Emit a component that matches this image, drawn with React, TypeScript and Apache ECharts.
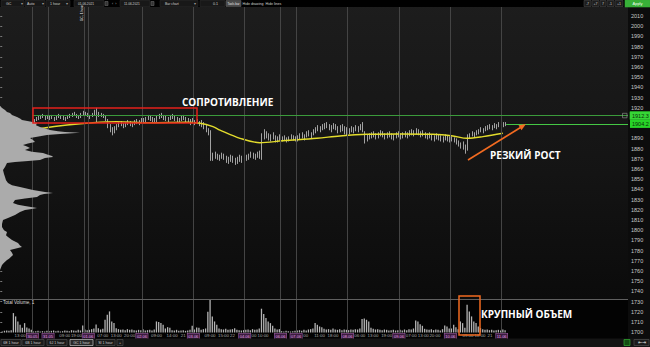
import { useEffect, useRef } from "react";
import * as echarts from "echarts";

// ---- price bars (hourly), index 0 = first bar of 28.05 session ----
const priceHigh = [
  // 28.05
  1903, 1905, 1904, 1906, 1902, 1901, 1903, 1905, 1904, 1906, 1907, 1905, 1904, 1903,
  // 30.05
  1909, 1911, 1912, 1913, 1914, 1912, 1913,
  // 31.05
  1912, 1913, 1911, 1912, 1914, 1913, 1912, 1911, 1913, 1914, 1915, 1916, 1914, 1913, 1915, 1917, 1916, 1915,
  // 01.06
  1913, 1915, 1918, 1920, 1916, 1915, 1914, 1912, 1909, 1904, 1901, 1902, 1904, 1906, 1907, 1905, 1906, 1908, 1907, 1906, 1908, 1909, 1908, 1910,
  // 02.06
  1910, 1911, 1913, 1912, 1911, 1910, 1912, 1914, 1915, 1913, 1912, 1911, 1913, 1914, 1912, 1911, 1910, 1912, 1913, 1911, 1910, 1909, 1910,
  // 03.06
  1908, 1909, 1907, 1908, 1906, 1904, 1900, 1898, 1876, 1877, 1875, 1874, 1876, 1875, 1873, 1872, 1874, 1873, 1871, 1872, 1874, 1873, 1872,
  // 04.06
  1874, 1875, 1877, 1876, 1875, 1877, 1878, 1895, 1899, 1897, 1895, 1894, 1896, 1893, 1892, 1894,
  // 06.06
  1892, 1893, 1891, 1892, 1894, 1893, 1892,
  // 07.06
  1893, 1895, 1896, 1894, 1897, 1898, 1896, 1899, 1901, 1903, 1902, 1904, 1905, 1906, 1904, 1903, 1905, 1904, 1902, 1903, 1904, 1902, 1901,
  // 08.06
  1900, 1902, 1901, 1903, 1902, 1904, 1906, 1897, 1894, 1895, 1896, 1897, 1895, 1896, 1898, 1897, 1895, 1896, 1897, 1895, 1894, 1896, 1897,
  // 09.06
  1895, 1896, 1897, 1896, 1898, 1899, 1898, 1900, 1899, 1897, 1898, 1896, 1895, 1896, 1894, 1893, 1895, 1894, 1893, 1892, 1894, 1893, 1892,
  // 10.06
  1892, 1891, 1890, 1888, 1886, 1887, 1884, 1894, 1895, 1897, 1896, 1898, 1899, 1901, 1900, 1902, 1903, 1904, 1903, 1905, 1904, 1906, 1905,
  // 11.06
  1906, 1906,
];

const priceLow = [
  1897, 1899, 1898, 1900, 1896, 1895, 1897, 1899, 1899, 1900, 1901, 1900, 1899, 1898,
  1905, 1907, 1908, 1909, 1910, 1908, 1909,
  1908, 1909, 1907, 1908, 1910, 1909, 1908, 1907, 1909, 1910, 1911, 1912, 1910, 1909, 1910, 1912, 1912, 1911,
  1909, 1911, 1912, 1906, 1911, 1911, 1910, 1907, 1900, 1896, 1893, 1895, 1898, 1901, 1902, 1900, 1901, 1903, 1902, 1901, 1903, 1904, 1903, 1905,
  1905, 1906, 1908, 1907, 1906, 1905, 1906, 1909, 1910, 1908, 1907, 1906, 1908, 1909, 1907, 1906, 1905, 1907, 1908, 1906, 1905, 1903, 1905,
  1903, 1904, 1902, 1901, 1899, 1896, 1893, 1868, 1868, 1870, 1869, 1868, 1870, 1869, 1866, 1865, 1867, 1866, 1864, 1865, 1867, 1866, 1865,
  1868, 1869, 1871, 1870, 1869, 1871, 1870, 1869, 1889, 1890, 1888, 1887, 1889, 1886, 1886, 1888,
  1887, 1888, 1886, 1887, 1889, 1888, 1887,
  1887, 1889, 1890, 1888, 1891, 1892, 1890, 1893, 1895, 1897, 1896, 1898, 1899, 1900, 1898, 1896, 1899, 1898, 1895, 1896, 1897, 1894, 1893,
  1894, 1896, 1895, 1897, 1896, 1898, 1896, 1885, 1887, 1889, 1890, 1891, 1889, 1890, 1892, 1891, 1889, 1890, 1891, 1889, 1888, 1890, 1891,
  1889, 1890, 1891, 1890, 1892, 1893, 1892, 1894, 1893, 1891, 1892, 1890, 1889, 1890, 1888, 1887, 1889, 1888, 1887, 1886, 1888, 1887, 1886,
  1887, 1886, 1884, 1882, 1880, 1879, 1875, 1878, 1890, 1892, 1891, 1893, 1894, 1896, 1895, 1897, 1898, 1899, 1898, 1900, 1899, 1901, 1900,
  1901, 1902,
];

// total volume (thousands)
const volume = [
  3, 5, 6, 5, 7, 58, 48, 33, 23, 14, 28, 15, 12, 8,
  3, 4, 5, 3, 4, 3, 5,
  4, 5, 6, 4, 5, 3, 4, 6, 5, 4, 7, 6, 5, 8, 6, 21, 9, 7,
  8, 10, 12, 24, 13, 9, 11, 38, 53, 63, 33, 28, 13, 10, 8, 9, 7, 10, 8, 9, 7, 6, 8, 7,
  10, 6, 7, 8, 6, 9, 33, 31, 28, 23, 12, 16, 14, 7, 6, 8, 5, 6, 7, 5, 6, 8, 20,
  9, 15, 14, 8, 10, 12, 62, 99, 48, 33, 23, 12, 10, 9, 11, 8, 9, 10, 13, 8, 7, 6, 7,
  8, 9, 7, 10, 8, 9, 12, 71, 55, 43, 33, 28, 20, 12, 9, 10,
  4, 3, 5, 4, 3, 4, 5,
  6, 7, 5, 8, 6, 9, 10, 12, 28, 23, 18, 16, 11, 9, 10, 8, 12, 9, 8, 10, 7, 9, 8,
  7, 9, 8, 10, 9, 12, 40, 42, 38, 33, 14, 11, 9, 10, 8, 7, 9, 8, 6, 7, 8, 6, 7,
  8, 6, 9, 7, 10, 9, 12, 36, 33, 25, 20, 11, 9, 8, 10, 7, 9, 8, 6, 10, 21, 18, 12,
  12, 23, 16, 10, 33, 28, 14, 83, 63, 48, 33, 28, 18, 13, 10, 8, 9, 7, 8, 6, 7, 8, 6,
  9, 7,
];

// moving average (yellow line), read at points
const maIndex = [16, 18, 29, 40.6, 51.3, 66, 82.7, 88.5, 94.3, 97.4, 106.4, 115.3, 125.6, 140.8, 151.1, 163.2, 178, 192.7, 201.7, 208, 215.1, 224];
const maValue = [1898.6, 1899.9, 1903.1, 1905.4, 1906.4, 1905.4, 1905.8, 1904.8, 1901.5, 1898.2, 1890.1, 1885.8, 1887.7, 1890.1, 1892.4, 1894, 1894.3, 1894, 1892.4, 1890.1, 1891.7, 1895];

// sessions
const dayStarts = [14, 21, 39, 63, 86, 109, 125, 132, 155, 178, 201, 224];
const dayLabels = ["30.05", "31.05", "01.06", "02.06", "03.06", "04.06", "06.06", "07.06", "08.06", "09.06", "10.06", "11.06"];
const extraSeparators = [36.6];
const timeLabelIdx = [4.4, 8, 28, 33.2, 45, 51, 57, 69, 76, 81, 93, 99, 103, 112.6, 116.7, 135.8, 142, 148, 160, 165.9, 172, 183, 188.4, 193.6, 208.4, 213.8, 218.2];
const timeLabelText = ["07:00", "13:00", "09:00", "19:00", "07:00", "13:00", "20:00", "09:00", "14:00", "21", "09:00", "15:00", "22", "00", "10:00", "00", "11:00", "18:00", "06:00", "13:00", "19:00", "07:00", "13:00", "20:00", "09:00", "18:00", "21"];

// volume profile (left)
const profilePrice = [1922, 1919.8, 1917.8, 1916, 1914.9, 1913, 1911, 1909.5, 1908, 1906.5, 1905.1, 1903, 1901.2, 1899.5, 1898.2, 1897, 1896.3, 1895.6, 1895, 1894.3, 1893.3, 1892, 1890.4, 1888.5, 1886.5, 1885, 1883.5, 1882, 1880.6, 1878.6, 1877, 1875.7, 1874, 1872.7, 1871.8, 1870.8, 1868.8, 1867.5, 1866.9, 1865.9, 1862, 1859, 1855, 1852.2, 1849, 1846.3, 1844, 1842.4, 1839.4, 1837.5, 1836.5, 1835.5, 1834.5, 1832.5, 1831, 1829.6, 1826.7, 1825, 1823.7, 1821.8, 1820.5, 1819.8, 1817.8, 1814.9, 1812, 1810, 1806, 1803.1, 1800, 1798.2, 1795, 1793.3, 1790.4, 1787.5, 1785, 1783.5, 1780.6, 1778, 1775.7, 1772, 1770.8, 1768, 1765.9, 1761];
const profileVolume = [0, 2, 5, 7, 10, 12, 17, 20, 22, 30, 37, 36, 40, 46, 50, 58, 65, 80, 72, 60, 47, 40, 30, 33, 35, 28, 23, 27, 30, 25, 32, 43, 48, 52, 53, 45, 40, 25, 15, 7, 5, 3, 4, 5, 6, 8, 12, 20, 33, 45, 53, 44, 40, 37, 25, 15, 13, 18, 25, 37, 30, 25, 20, 15, 8, 3, 2, 2, 4, 7, 6, 8, 12, 18, 20, 22, 10, 12, 13, 9, 7, 4, 2, 0];

// price axis labels hidden behind the price boxes
const coveredPriceLabels = [1900, 1910];
const levelPrice = 1912.3;
const lastPrice = 1904.2;
const timerText = "01:29:48";

const FONT = '"Liberation Sans", Arial, sans-serif';
const BOLD = '"Open Sans", "Noto Sans", sans-serif';

function txt(x: number, y: number, text: string, size: number, color: string, align = "left", weight = "normal", family = FONT, extra: any = {}) {
  return {
    type: "text",
    x,
    y,
    z: 62,
    ...extra,
    style: {
      text,
      fill: color,
      font: `${weight} ${size}px ${family}`,
      align,
      textAlign: align,
      verticalAlign: "middle",
      textVerticalAlign: "middle",
    },
  };
}
function box(x: number, y: number, w: number, h: number, fill: string, stroke: string, z = 61, lw = 0.6) {
  return { type: "rect", z, shape: { x, y, width: w, height: h }, style: { fill, stroke, lineWidth: lw } };
}

export default function App() {
  const ref = useRef<HTMLDivElement>(null);
  useEffect(() => {
    document.body.style.margin = "0";
    const chart = echarts.init(ref.current!, null, { renderer: "svg" });

    const barData = priceHigh.map((h, i) => [i, priceLow[i], h]);
    const volData = volume.map((v, i) => [i, v]);
    const maData = maIndex.map((x, i) => [x, maValue[i]]);
    const sepValues = [...dayStarts.map((d) => d - 0.5), ...extraSeparators];

    const labelMap = new Map<string, string>();
    timeLabelIdx.forEach((v, i) => labelMap.set(v.toFixed(2), `{t|${timeLabelText[i]}}`));
    dayStarts.forEach((d, i) => labelMap.set((d - 0.5).toFixed(2), `{d|${dayLabels[i]}}`));
    const labelValues = [...timeLabelIdx, ...dayStarts.map((d) => d - 0.5)];

    // toolbar
    const toolbar: any[] = [
      box(0, 0, 650, 7, "#000", "#000", 60, 0),
      box(1, 0.5, 23, 6, "#181818", "#2e2e2e"),
      txt(6, 3.5, "GC", 3.6, "#d0d0d0"),
      txt(21, 3.5, "▾", 3.6, "#999"),
      box(25, 0.5, 20, 6, "#181818", "#2e2e2e"),
      txt(27, 3.5, "Auto", 3.6, "#d0d0d0"),
      txt(42, 3.5, "▾", 3.6, "#999"),
      box(46, 0.5, 24, 6, "#181818", "#2e2e2e"),
      txt(50, 3.5, "1 hour", 3.6, "#d0d0d0"),
      txt(66, 3.5, "▾", 3.6, "#999"),
      box(74, 0.5, 30, 6, "#181818", "#2e2e2e"),
      txt(78, 3.5, "01.06.2021", 3.2, "#d0d0d0"),
      box(105, 1.5, 3, 4, "#333", "#666"),
      txt(112, 3.5, "‹  ›", 3.6, "#bbb"),
      box(120, 0.5, 30, 6, "#181818", "#2e2e2e"),
      txt(124, 3.5, "11.06.2021", 3.2, "#d0d0d0"),
      box(151, 1.5, 3, 4, "#333", "#666"),
      box(160, 0.5, 38, 6, "#181818", "#2e2e2e"),
      txt(165, 3.5, "Bar chart", 3.4, "#d0d0d0"),
      txt(194, 3.5, "▾", 3.6, "#999"),
      box(200, 0.5, 25, 6, "#181818", "#2e2e2e"),
      txt(213, 3.5, "0.1", 3.6, "#d0d0d0"),
      box(226, 0.5, 15, 6, "#4a4a4a", "#5a5a5a"),
      txt(233.5, 3.5, "Tools bar", 3, "#e0e0e0", "center"),
      txt(242.5, 3.5, "Hide drawing", 3.6, "#d0d0d0"),
      txt(265.5, 3.5, "Hide lines", 3.6, "#d0d0d0"),
      box(584, 0.5, 7, 6, "#1e1e1e", "#444"),
      txt(587.5, 3.5, "-7", 3.6, "#ccc", "center"),
      box(592, 0.5, 7, 6, "#1e1e1e", "#444"),
      txt(595.5, 3.5, "+7", 3.6, "#ccc", "center"),
      box(600, 0.5, 6, 6, "#1e1e1e", "#444"),
      txt(603, 3.5, "7", 3.6, "#ccc", "center"),
      box(607, 0.5, 7, 6, "#1e1e1e", "#444"),
      txt(610.5, 3.5, "-1", 3.6, "#ccc", "center"),
      box(615, 0.5, 8, 6, "#1e1e1e", "#444"),
      txt(619, 3.5, "+1", 3.6, "#ccc", "center"),
      box(625, 0, 25, 7, "#38b038", "#38b038"),
      txt(637.5, 3.5, "Apply", 4, "#f0fff0", "center"),
      txt(82, 13, "GC, 1 hour", 3.4, "#e6e6e6", "center", "normal", FONT, { rotation: Math.PI / 2 }),
    ];

    // bottom tab bar
    const tabs = [
      { x: 1, w: 20, t: "6E 1 hour" },
      { x: 22, w: 22, t: "6B 1 hour" },
      { x: 47, w: 20, t: "6J 1 hour" },
      { x: 70, w: 23, t: "GC 1 hour", sel: true },
      { x: 96, w: 19, t: "SI 1 hour" },
      { x: 117, w: 6, t: "+" },
    ];
    const bottom: any[] = [box(0, 338.5, 650, 9, "#141414", "#141414", 60, 0)];
    tabs.forEach((tb: any) => {
      bottom.push(box(tb.x, 339.5, tb.w, 6, tb.sel ? "#2a2a2a" : "#1b1b1b", tb.sel ? "#d8d8d8" : "#555"));
      bottom.push(txt(tb.x + tb.w / 2, 342.5, tb.t, 3.6, "#cfcfcf", "center"));
    });
    bottom.push(box(624, 339.5, 6, 6, "#134d13", "#35c035"));
    bottom.push(box(634, 339.5, 15, 6, "#1b1b1b", "#555"));
    bottom.push(txt(641.5, 342.5, "⇤⇥", 4.5, "#ddd", "center"));

    const arrowTip = [526, 124];
    const annotations: any[] = [
      box(0, 299, 628, 40, "#030303", "#030303", -1, 0),
      box(628, 7, 22, 332, "#0c0c0c", "#0c0c0c", -1, 0),
      { type: "line", z: 30, shape: { x1: 0, y1: 299.5, x2: 628, y2: 299.5 }, style: { stroke: "#5f5f5f", lineWidth: 1 } },
      box(622.5, 113.3, 4.5, 4.5, "none", "#8a8a8a", 30, 0.7),
      { type: "rect", z: 55, shape: { x: 33, y: 108, width: 164, height: 15 }, style: { fill: "none", stroke: "#e3201b", lineWidth: 1.5 } },
      { type: "rect", z: 55, shape: { x: 459, y: 296, width: 21, height: 39 }, style: { fill: "none", stroke: "#f26b21", lineWidth: 1.5 } },
      { type: "line", z: 55, shape: { x1: 468, y1: 160, x2: 520.5, y2: 127.5 }, style: { stroke: "#f26b21", lineWidth: 1.6 } },
      { type: "polygon", z: 55, shape: { points: [arrowTip, [521.5, 130.2], [518.5, 125.2]] }, style: { fill: "#f26b21" } },
      txt(182, 102, "СОПРОТИВЛЕНИЕ", 10, "#ffffff", "left", "bold", BOLD),
      txt(490, 155, "РЕЗКИЙ РОСТ", 10, "#ffffff", "left", "bold", BOLD),
      txt(481, 314, "КРУПНЫЙ ОБЪЕМ", 10, "#ffffff", "left", "bold", BOLD),
      txt(3, 302.5, "Total Volume, 1", 4.6, "#dddddd"),
    ];

    const option: any = {
      animation: false,
      backgroundColor: {
        type: "linear", x: 0, y: 0, x2: 0, y2: 1,
        colorStops: [
          { offset: 0, color: "#1d1d1d" },
          { offset: 0.5, color: "#141414" },
          { offset: 0.86, color: "#0b0b0b" },
          { offset: 1, color: "#080808" },
        ],
      },
      grid: [
        { left: 0, top: 5.8, width: 628, height: 336.6 },
        { left: 0, top: 299, width: 628, height: 33.5 },
        { left: 0, top: 5.8, width: 100, height: 336.6 },
      ],
      xAxis: [
        { type: "value", gridIndex: 0, min: -1, max: 280, show: false },
        {
          type: "value", gridIndex: 1, min: -1, max: 280,
          axisLine: { show: false }, axisTick: { show: false }, splitLine: { show: false },
          axisLabel: {
            customValues: labelValues,
            hideOverlap: false,
            margin: 1,
            fontSize: 4.4,
            fontFamily: FONT,
            color: "#a8a8a8",
            formatter: (v: number) => labelMap.get(Number(v).toFixed(2)) || "",
            rich: {
              t: { color: "#a8a8a8", fontSize: 4.4, fontFamily: FONT },
              d: {
                color: "#e7a3ea", fontSize: 4, fontFamily: FONT,
                backgroundColor: "#3a1c3d", borderColor: "#9a5aa0", borderWidth: 0.6,
                padding: [1, 0.8, 0.5, 0.8],
              },
            },
          },
        },
        { type: "value", gridIndex: 2, min: 0, max: 100, show: false },
      ],
      yAxis: [
        {
          type: "value", gridIndex: 0, min: 1690, max: 2020, interval: 10, position: "right",
          axisLine: { show: false },
          axisTick: { show: true, inside: true, length: 2, lineStyle: { color: "#777" } },
          splitLine: { show: false },
          axisLabel: {
            color: "#c8c8c8", fontSize: 5.5, fontFamily: FONT, margin: 3, showMinLabel: false, showMaxLabel: false,
            formatter: (v: number) => (coveredPriceLabels.includes(v) ? "" : String(v)),
          },
        },
        { type: "value", gridIndex: 1, min: 0, max: 100, show: false },
        { type: "value", gridIndex: 2, min: 1690, max: 2020, show: false },
      ],
      graphic: { elements: [...annotations, ...toolbar, ...bottom] },
      series: [
        {
          name: "separators", type: "line", xAxisIndex: 0, yAxisIndex: 0, z: 1,
          data: [[-5, 1800]], showSymbol: false, silent: true, lineStyle: { opacity: 0 },
          markLine: {
            symbol: ["none", "none"], silent: true, animation: false,
            label: { show: false },
            lineStyle: { color: "#444444", width: 1, type: "solid" },
            data: sepValues.map((v) => [{ coord: [v, 2020] }, { coord: [v, 1699.2] }]),
          },
        },
        {
          name: "bars", type: "custom", xAxisIndex: 0, yAxisIndex: 0, z: 3,
          data: barData,
          renderItem: (_p: any, api: any) => {
            const x = api.value(0);
            const lo = api.coord([x, api.value(1)]);
            const hi = api.coord([x, api.value(2)]);
            const px = Math.round(lo[0]) + 0.5;
            return { type: "line", shape: { x1: px, y1: lo[1], x2: px, y2: hi[1] }, style: { stroke: "#a2a2a2", lineWidth: 1 } };
          },
        },
        {
          name: "MA", type: "line", xAxisIndex: 0, yAxisIndex: 0, z: 4,
          data: maData, smooth: 0.35, showSymbol: false, silent: true,
          lineStyle: { color: "#e3dc2c", width: 1.4 },
        },
        {
          name: "levels", type: "line", xAxisIndex: 0, yAxisIndex: 0, z: 10,
          data: [[-5, 1800]], showSymbol: false, silent: true, lineStyle: { opacity: 0 },
          markLine: {
            symbol: ["none", "none"], silent: true, animation: false,
            data: [
              [
                {
                  coord: [13.5, levelPrice],
                  lineStyle: { color: "#3b9b3b", width: 1, type: "solid" },
                  label: {
                    show: true, position: "end", distance: 2, formatter: String(levelPrice),
                    backgroundColor: "#36d636", color: "#0a300a", fontSize: 5.5, fontFamily: FONT,
                    padding: [1.2, 2, 0.8, 2], borderColor: "#1f8f1f", borderWidth: 0.5,
                  },
                },
                { coord: [280, levelPrice] },
              ],
              [
                {
                  coord: [225.5, lastPrice],
                  lineStyle: { color: "#45c845", width: 1, type: "solid" },
                  label: {
                    show: true, position: "end", distance: 2, formatter: String(lastPrice),
                    backgroundColor: "#27d427", color: "#0a300a", fontSize: 5.5, fontFamily: FONT,
                    padding: [1.2, 2, 0.8, 2],
                  },
                },
                { coord: [280, lastPrice] },
              ],
              [
                {
                  coord: [225.5, lastPrice],
                  lineStyle: { opacity: 0 },
                  label: {
                    show: true, position: "insideEndTop", distance: [11, 1], formatter: timerText,
                    color: "#dcdcdc", fontSize: 5, fontFamily: FONT,
                  },
                },
                { coord: [280, lastPrice] },
              ],
            ],
          },
        },
        {
          name: "Total Volume", type: "bar", xAxisIndex: 1, yAxisIndex: 1, z: 3,
          data: volData, barWidth: 1.3, silent: true,
          itemStyle: { color: "#b4b4b4" },
        },
        {
          name: "profile", type: "custom", xAxisIndex: 2, yAxisIndex: 2, z: 6, silent: true,
          data: [[0, 1900]],
          renderItem: (_p: any, api: any) => {
            const pts = profilePrice.map((p, i) => api.coord([profileVolume[i], p]));
            const x0 = api.coord([0, 1900])[0];
            return {
              type: "polygon",
              shape: { points: [[x0, pts[0][1]], ...pts, [x0, pts[pts.length - 1][1]]] },
              style: { fill: "#ababab" },
            };
          },
        },
      ],
    };
    chart.setOption(option);
    return () => chart.dispose();
  }, []);
  return <div ref={ref} style={{ position: "fixed", left: 0, top: 0, width: 650, height: 347 }} />;
}
